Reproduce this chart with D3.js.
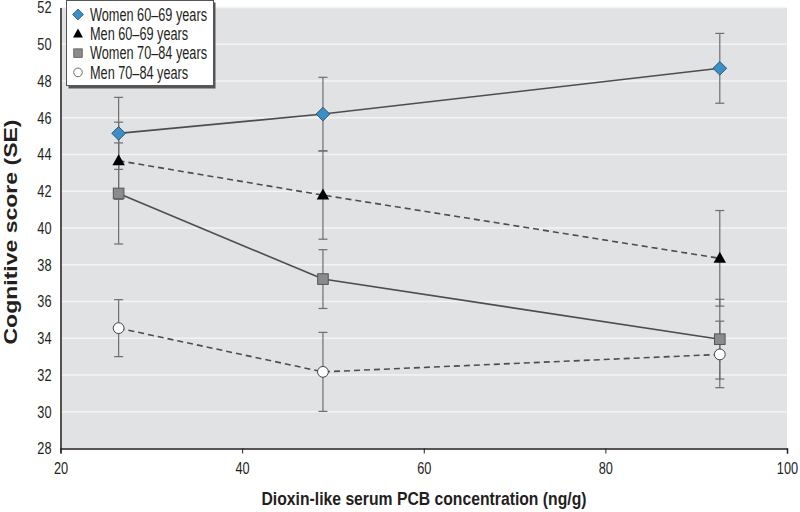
<!DOCTYPE html>
<html>
<head>
<meta charset="utf-8">
<script src="https://cdn.jsdelivr.net/npm/d3@7/dist/d3.min.js"></script>
<style>
  body { margin: 0; background: #fff; }
  text { font-family: "Liberation Sans", Arial, sans-serif; fill: #231f20; }
</style>
</head>
<body>
<svg id="chart" width="800" height="512"></svg>
<script>
var pcb = [26.4, 48.9, 92.6]
  , xTicks = [20, 40, 60, 80, 100]
  , yTicks = [28, 30, 32, 34, 36, 38, 40, 42, 44, 46, 48, 50, 52]

var women6069 = [45.15, 46.2, 48.69]
  , women6069SE = [1.96, 2.0, 1.9]
  , men6069 = [43.66, 41.79, 38.35]
  , men6069SE = [2.1, 2.4, 2.6]
  , women7084 = [41.88, 37.22, 33.95]
  , women7084SE = [2.75, 1.6, 2.17]
  , men7084 = [34.55, 32.17, 33.12]
  , men7084SE = [1.55, 2.15, 1.81]

var seriesNames = ['Women 60–69 years', 'Men 60–69 years', 'Women 70–84 years', 'Men 70–84 years']

draw()

function draw() {
  var series = [
      { name: seriesNames[0], y: women6069, se: women6069SE, marker: 'diamond', dash: null }
    , { name: seriesNames[1], y: men6069, se: men6069SE, marker: 'triangle', dash: '6,4' }
    , { name: seriesNames[2], y: women7084, se: women7084SE, marker: 'square', dash: null }
    , { name: seriesNames[3], y: men7084, se: men7084SE, marker: 'circle', dash: '6,4' }
  ]

  var svg = d3.select('#chart')
    , plotLeft = 60.5
    , plotRight = 787
    , plotTop = 7.5
    , plotBottom = 448.5

  var x = d3.scaleLinear().domain([20, 100]).range([plotLeft, plotRight])
    , y = d3.scaleLinear().domain([28, 52]).range([plotBottom, plotTop])

  // plot background
  svg.append('rect')
    .attr('x', plotLeft)
    .attr('y', plotTop)
    .attr('width', plotRight - plotLeft)
    .attr('height', plotBottom - plotTop)
    .attr('fill', '#e1e2e4')

  // gridlines
  svg.append('g')
    .selectAll('line')
    .data(yTicks.slice(1))
    .enter()
      .append('line')
      .attr('x1', plotLeft)
      .attr('x2', plotRight)
      .attr('y1', function(d) { return y(d) })
      .attr('y2', function(d) { return y(d) })
      .attr('stroke', '#f4f4f5')
      .attr('stroke-width', 1.5)

  // axes
  var xAxis = svg.append('g')
    .attr('transform', 'translate(0,' + plotBottom + ')')
    .call(d3.axisBottom(x).tickValues(xTicks).tickSize(5).tickPadding(8))

  xAxis.select('.domain').attr('stroke', '#231f20').attr('stroke-width', 1.5)
  xAxis.selectAll('.tick line').attr('stroke', '#231f20')
  xAxis.selectAll('text').attr('font-size', '17px').attr('fill', '#231f20').attr('font-family', null)

  var yAxis = svg.append('g')
    .attr('transform', 'translate(' + plotLeft + ',0)')
    .call(d3.axisLeft(y).tickValues(yTicks).tickSize(0).tickPadding(9))

  yAxis.select('.domain').attr('stroke', '#231f20').attr('stroke-width', 1.5)
  yAxis.selectAll('text').attr('font-size', '17px').attr('fill', '#231f20').attr('font-family', null)

  condense(xAxis.selectAll('text'), 0.75)
  condense(yAxis.selectAll('text'), 0.75)

  // error bars
  var errG = svg.append('g')

  series.forEach(function(s) {
    var bars = errG.selectAll(null)
      .data(pcb.map(function(v, i) { return { x: v, y: s.y[i], se: s.se[i] } }))
      .enter()
        .append('g')

    bars.append('line')
      .attr('x1', function(d) { return x(d.x) })
      .attr('x2', function(d) { return x(d.x) })
      .attr('y1', function(d) { return y(d.y + d.se) })
      .attr('y2', function(d) { return y(d.y - d.se) })
      .attr('stroke', '#6d6e71')
      .attr('stroke-width', 1.2)

    ;[1, -1].forEach(function(sign) {
      bars.append('line')
        .attr('x1', function(d) { return x(d.x) - 4.5 })
        .attr('x2', function(d) { return x(d.x) + 4.5 })
        .attr('y1', function(d) { return y(d.y + sign * d.se) })
        .attr('y2', function(d) { return y(d.y + sign * d.se) })
        .attr('stroke', '#6d6e71')
        .attr('stroke-width', 1.2)
    })
  })

  // lines
  var line = d3.line()
    .x(function(d) { return x(d[0]) })
    .y(function(d) { return y(d[1]) })

  svg.append('g')
    .selectAll('path')
    .data(series)
    .enter()
      .append('path')
      .attr('d', function(s) { return line(pcb.map(function(v, i) { return [v, s.y[i]] })) })
      .attr('fill', 'none')
      .attr('stroke', '#4d4d4f')
      .attr('stroke-width', 1.6)
      .attr('stroke-dasharray', function(s) { return s.dash })

  series.forEach(function(s) {
    svg.append('g')
      .selectAll('g')
      .data(pcb.map(function(v, i) { return [v, s.y[i]] }))
      .enter()
        .append('g')
        .attr('transform', function(d) { return 'translate(' + x(d[0]) + ',' + y(d[1]) + ')' })
        .each(function() { drawMarker(d3.select(this), s.marker) })
  })

  // legend
  var legend = svg.append('g').attr('transform', 'translate(66,0)')

  legend.append('rect')
    .attr('x', 2.5)
    .attr('y', 2.5)
    .attr('width', 147)
    .attr('height', 86)
    .attr('fill', '#555')

  legend.append('rect')
    .attr('x', 0.5)
    .attr('y', 0.5)
    .attr('width', 147)
    .attr('height', 85)
    .attr('fill', '#fff')
    .attr('stroke', '#555')
    .attr('stroke-width', 1)

  var items = legend.selectAll('.item')
    .data(series)
    .enter()
      .append('g')
      .attr('class', 'item')
      .attr('transform', function(d, i) { return 'translate(12,' + (14.5 + i * 19.3) + ')' })

  items.each(function(s) {
    var g = d3.select(this).append('g').attr('transform', 'scale(0.8)')
    drawMarker(g, s.marker)
  })

  var legendText = items.append('text')
    .attr('x', 12)
    .attr('dy', '0.36em')
    .attr('font-size', '17.5px')
    .text(function(d) { return d.name })

  // widest entry should end near the legend's right border
  var widest = d3.max(legendText.nodes(), function(n) { return n.getComputedTextLength() })
  condense(legendText, 117 / widest)

  // axis titles
  var xTitle = svg.append('text')
    .attr('x', 424)
    .attr('y', 505)
    .attr('text-anchor', 'middle')
    .attr('font-size', '19px')
    .attr('font-weight', 'bold')
    .text('Dioxin-like serum PCB concentration (ng/g)')

  condense(xTitle, 325 / xTitle.node().getComputedTextLength())

  var yTitle = svg.append('text')
    .attr('transform', 'translate(17,232) rotate(-90)')
    .attr('text-anchor', 'middle')
    .attr('font-size', '19px')
    .attr('font-weight', 'bold')
    .text('Cognitive score (SE)')

  condense(yTitle, 225 / yTitle.node().getComputedTextLength())
}

// narrow the glyphs, the reference uses a condensed face
function condense(sel, factor) {
  sel.each(function() {
    var len = this.getComputedTextLength()
    d3.select(this)
      .attr('textLength', len * factor)
      .attr('lengthAdjust', 'spacingAndGlyphs')
  })
}

function drawMarker(sel, type) {
  if(type === 'diamond') {
    sel.append('path')
      .attr('d', 'M0,-6.8L6.8,0L0,6.8L-6.8,0Z')
      .attr('fill', '#3a8fc7')
      .attr('stroke', '#2b5573')
      .attr('stroke-width', 1)
  } else if(type === 'triangle') {
    sel.append('path')
      .attr('d', 'M0,-6.5L6.2,4.5L-6.2,4.5Z')
      .attr('fill', '#000')
  } else if(type === 'square') {
    sel.append('rect')
      .attr('x', -5.3)
      .attr('y', -5.3)
      .attr('width', 10.6)
      .attr('height', 10.6)
      .attr('fill', '#8a8b8d')
      .attr('stroke', '#555')
      .attr('stroke-width', 1)
  } else {
    sel.append('circle')
      .attr('r', 5.4)
      .attr('fill', '#fff')
      .attr('stroke', '#444')
      .attr('stroke-width', 1)
  }
}
</script>
</body>
</html>
